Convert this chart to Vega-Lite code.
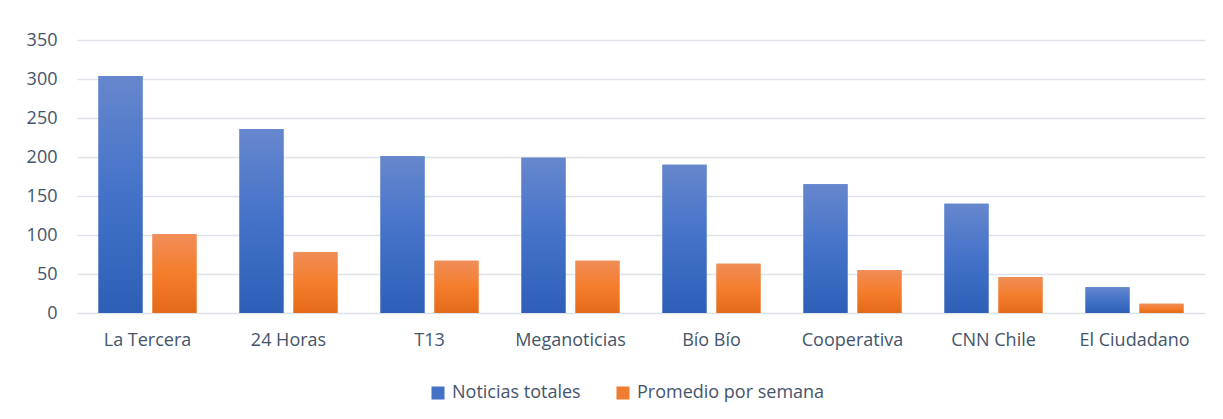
{
  "$schema": "https://vega.github.io/schema/vega-lite/v6.json",
  "width": 1128,
  "height": 273,
  "autosize": "none",
  "padding": {"left": 77, "top": 40, "right": 18, "bottom": 106},
  "background": "white",
  "config": {
    "view": {"stroke": null},
    "font": "Open Sans",
    "axis": {"labelFont": "Open Sans", "labelColor": "#44546A", "labelFontSize": 18}
  },
  "data": {
    "values": [
      {"medio": "La Tercera", "serie": "Noticias totales", "valor": 304},
      {"medio": "La Tercera", "serie": "Promedio por semana", "valor": 101},
      {"medio": "24 Horas", "serie": "Noticias totales", "valor": 236},
      {"medio": "24 Horas", "serie": "Promedio por semana", "valor": 78},
      {"medio": "T13", "serie": "Noticias totales", "valor": 201},
      {"medio": "T13", "serie": "Promedio por semana", "valor": 67},
      {"medio": "Meganoticias", "serie": "Noticias totales", "valor": 199},
      {"medio": "Meganoticias", "serie": "Promedio por semana", "valor": 67},
      {"medio": "Bío Bío", "serie": "Noticias totales", "valor": 190},
      {"medio": "Bío Bío", "serie": "Promedio por semana", "valor": 63},
      {"medio": "Cooperativa", "serie": "Noticias totales", "valor": 165},
      {"medio": "Cooperativa", "serie": "Promedio por semana", "valor": 55},
      {"medio": "CNN Chile", "serie": "Noticias totales", "valor": 140},
      {"medio": "CNN Chile", "serie": "Promedio por semana", "valor": 46},
      {"medio": "El Ciudadano", "serie": "Noticias totales", "valor": 33},
      {"medio": "El Ciudadano", "serie": "Promedio por semana", "valor": 12}
    ]
  },
  "encoding": {
    "x": {
      "field": "medio", "type": "nominal", "sort": null, "title": null,
      "scale": {"paddingInner": 0.305, "paddingOuter": 0.1525},
      "axis": {"labelAngle": 0, "ticks": false, "domain": false, "labelPadding": 18, "grid": false}
    },
    "xOffset": {
      "field": "serie", "type": "nominal",
      "scale": {"domain": ["Noticias totales", "Promedio por semana"], "paddingInner": 0.185, "paddingOuter": 0}
    },
    "y": {
      "field": "valor", "type": "quantitative", "title": null,
      "scale": {"domain": [0, 350], "nice": false},
      "axis": {"values": [0, 50, 100, 150, 200, 250, 300, 350], "ticks": false, "domain": false, "labelPadding": 20,
               "gridColor": "#DFE3E9", "gridWidth": 1.7, "gridOpacity": 1}
    }
  },
  "layer": [
    {
      "mark": {"type": "bar"},
      "encoding": {
        "color": {
          "field": "serie", "type": "nominal",
          "scale": {"domain": ["Noticias totales", "Promedio por semana"], "range": ["#4472C4", "#ED7D31"]},
          "legend": {
            "title": null, "orient": "none", "direction": "horizontal",
            "legendX": 352, "legendY": 344,
            "symbolType": "square", "symbolSize": 170, "symbolStrokeWidth": 0,
            "labelFont": "Open Sans", "labelFontSize": 18, "labelColor": "#44546A", "labelLimit": 0,
            "labelOffset": 5, "columnPadding": 33
          }
        }
      }
    },
    {
      "transform": [{"filter": "datum.serie === 'Noticias totales'"}],
      "mark": {
        "type": "bar",
        "color": {"gradient": "linear", "x1": 0, "y1": 0, "x2": 0, "y2": 1,
          "stops": [{"offset": 0, "color": "#6687CD"}, {"offset": 0.5, "color": "#4472C9"}, {"offset": 1, "color": "#2E5EB6"}]}
      }
    },
    {
      "transform": [{"filter": "datum.serie === 'Promedio por semana'"}],
      "mark": {
        "type": "bar",
        "color": {"gradient": "linear", "x1": 0, "y1": 0, "x2": 0, "y2": 1,
          "stops": [{"offset": 0, "color": "#F08D58"}, {"offset": 0.5, "color": "#F47D2C"}, {"offset": 1, "color": "#E46A18"}]}
      }
    }
  ]
}
